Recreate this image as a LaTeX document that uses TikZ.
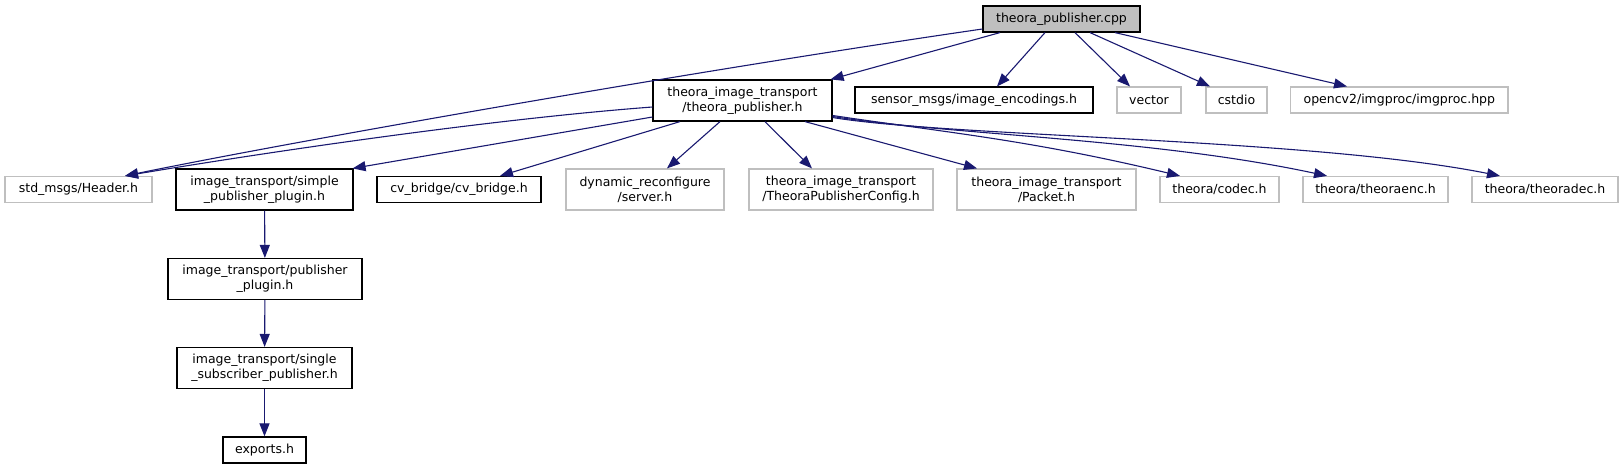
\documentclass[tikz,border=0pt]{standalone}
\usepackage{fontspec}
\setmainfont{DejaVu Sans}
\usetikzlibrary{arrows.meta}
\definecolor{edgec}{HTML}{191970}
\definecolor{grayb}{HTML}{BFBFBF}
\begin{document}
\begin{tikzpicture}[x=1pt,y=-1pt,
  fbox/.style={draw=black, line width=1.2pt, rectangle, inner sep=0pt, align=center, font=\fontsize{12.5}{15}\selectfont, minimum height=26pt},
  gbox/.style={fbox, draw=grayb},
  two/.style={minimum height=41pt},
  dep/.style={draw=edgec, line width=1.1pt, -{Triangle[length=13pt,width=10pt]}}]
\useasboundingbox (0,0) rectangle (1623,469);
\node[fbox, fill=grayb, minimum width=157pt] (cpp) at (1061.5,19) {theora\_publisher.cpp};
\node[fbox, two, minimum width=179pt] (tp) at (742.5,100.5) {theora\_image\_transport\\/theora\_publisher.h};
\node[fbox, minimum width=238pt] (sen) at (974,100) {sensor\_msgs/image\_encodings.h};
\node[gbox, minimum width=64pt] (vec) at (1149,100) {vector};
\node[gbox, minimum width=61pt] (cst) at (1236.5,100) {cstdio};
\node[gbox, inner xsep=13pt, anchor=west] (ocv) at (1290,100) {opencv2/imgproc/imgproc.hpp};
\node[gbox, minimum width=147pt] (hdr) at (78.5,189.5) {std\_msgs/Header.h};
\node[fbox, two, minimum width=177pt] (spp) at (264.5,189.5) {image\_transport/simple\\\_publisher\_plugin.h};
\node[fbox, minimum width=164pt] (cvb) at (459,189.5) {cv\_bridge/cv\_bridge.h};
\node[gbox, two, minimum width=158pt] (dyn) at (645,189.5) {dynamic\_reconfigure\\/server.h};
\node[gbox, two, minimum width=184pt] (cfg) at (841,189.5) {theora\_image\_transport\\/TheoraPublisherConfig.h};
\node[gbox, two, minimum width=179pt] (pkt) at (1046.5,189.5) {theora\_image\_transport\\/Packet.h};
\node[gbox, minimum width=119pt] (cod) at (1219.5,189.5) {theora/codec.h};
\node[gbox, minimum width=145pt] (enc) at (1375.5,189.5) {theora/theoraenc.h};
\node[gbox, minimum width=146pt] (dec) at (1545,189.5) {theora/theoradec.h};
\node[fbox, two, minimum width=194pt] (pp) at (265,279) {image\_transport/publisher\\\_plugin.h};
\node[fbox, two, minimum width=175pt] (ssp) at (264.5,368) {image\_transport/single\\\_subscriber\_publisher.h};
\node[fbox, minimum width=83pt] (exp) at (264.5,450) {exports.h};
% from cpp
\draw[dep] ([yshift=-10pt]cpp.west) .. controls (700,70) and (300,140) .. ([xshift=46.5pt]hdr.north);
\draw[dep] ([xshift=-61.5pt]cpp.south) -- ([xshift=-2pt]tp.north east);
\draw[dep] ([xshift=-16.5pt]cpp.south) -- ([xshift=23pt]sen.north);
\draw[dep] ([xshift=13.5pt]cpp.south) -- ([xshift=-19pt]vec.north);
\draw[dep] ([xshift=28.5pt]cpp.south) -- ([xshift=-26.5pt]cst.north);
\draw[dep] ([xshift=53.5pt]cpp.south) -- ([xshift=57pt]ocv.north west);
% from theora_publisher.h
\draw[dep] ([yshift=-6.5pt]tp.west) .. controls (480,120) and (250,155) .. ([xshift=46.5pt]hdr.north);
\draw[dep] ([yshift=-16.5pt]tp.west) -- ([xshift=-1pt]spp.north east);
\draw[dep] ([xshift=-62.5pt]tp.south) -- ([xshift=41pt]cvb.north);
\draw[dep] ([xshift=-22.5pt]tp.south) -- ([xshift=22pt]dyn.north);
\draw[dep] ([xshift=22.5pt]tp.south) -- ([xshift=-29pt]cfg.north);
\draw[dep] ([xshift=62.5pt]tp.south) -- ([xshift=-69.5pt]pkt.north);
\draw[dep] ([yshift=-15pt]tp.east) .. controls (950,133) and (1030,140) .. ([xshift=-39.5pt]cod.north);
\draw[dep] ([yshift=-16pt]tp.east) .. controls (950,135) and (1150,138) .. ([xshift=-48.5pt]enc.north);
\draw[dep] ([yshift=-17pt]tp.east) .. controls (950,137) and (1310,138) .. ([xshift=-45pt]dec.north);
% chain
\draw[dep] (spp) -- (pp);
\draw[dep] (pp) -- (ssp);
\draw[dep] (ssp) -- (exp);
\end{tikzpicture}
\end{document}
